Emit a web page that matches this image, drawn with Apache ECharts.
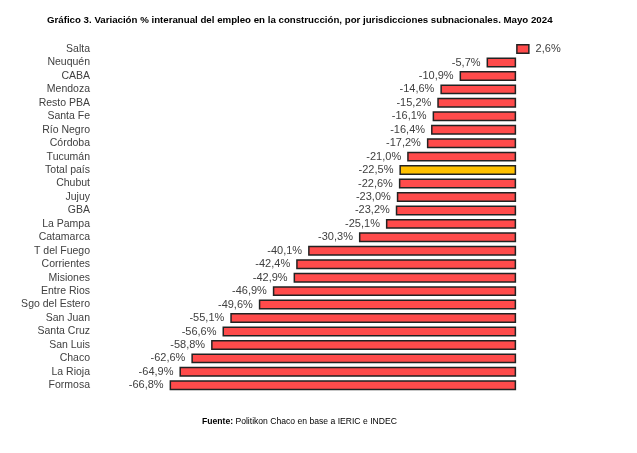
<!DOCTYPE html>
<html><head><meta charset="utf-8">
<script src="https://cdn.jsdelivr.net/npm/echarts@6/dist/echarts.min.js"></script>
<style>html,body{margin:0;padding:0;background:#fff}#c{width:637px;height:453px}</style>
</head><body><div id="c"></div>
<script>
const categories = ['Salta','Neuquén','CABA','Mendoza','Resto PBA','Santa Fe','Río Negro','Córdoba','Tucumán','Total país','Chubut','Jujuy','GBA','La Pampa','Catamarca','T del Fuego','Corrientes','Misiones','Entre Rios','Sgo del Estero','San Juan','Santa Cruz','San Luis','Chaco','La Rioja','Formosa'];
const values = [2.6,-5.7,-10.9,-14.6,-15.2,-16.1,-16.4,-17.2,-21.0,-22.5,-22.6,-23.0,-23.2,-25.1,-30.3,-40.1,-42.4,-42.9,-46.9,-49.6,-55.1,-56.6,-58.8,-62.6,-64.9,-66.8];
const highlight = 'Total país';

const FONT = "'Liberation Sans',Arial,sans-serif";
const chart = echarts.init(document.getElementById('c'));
chart.setOption({
  animation: false,
  title: [{
    text: 'Gráfico 3. Variación % interanual del empleo en la construcción, por jurisdicciones subnacionales. Mayo 2024',
    left: 42, top: 10,
    textStyle: {fontFamily: FONT, fontSize: 9.7, fontWeight: 'bold', color: '#000'}
  },{
    text: '{b|Fuente:} Politikon Chaco en base a IERIC e INDEC',
    left: 197, top: 412,
    textStyle: {fontFamily: FONT, fontSize: 8.6, fontWeight: 'normal', color: '#000',
      rich: {b: {fontFamily: FONT, fontSize: 8.6, fontWeight: 'bold', color: '#000'}}}
  }],
  grid: {left: 153, right: 69, top: 42.3, bottom: 61},
  xAxis: {type: 'value', min: -70, max: 10, show: false},
  yAxis: {
    type: 'category', data: categories, inverse: true,
    axisLine: {show: false}, axisTick: {show: false},
    axisLabel: {interval: 0, margin: 63, fontFamily: FONT, fontSize: 10.5, color: '#404040'}
  },
  series: [{
    type: 'bar',
    barCategoryGap: '26%',
    data: values.map((v, i) => ({
      value: v,
      itemStyle: {color: categories[i] === highlight ? '#FFC000' : '#FF4B4B'},
      label: {position: v < 0 ? 'left' : 'right'}
    })),
    itemStyle: {borderColor: '#222', borderWidth: 1.5},
    label: {
      show: true, distance: 6, fontFamily: FONT, fontSize: 11, color: '#404040',
      formatter: p => p.value.toFixed(1).replace('.', ',') + '%'
    }
  }]
});
</script></body></html>
